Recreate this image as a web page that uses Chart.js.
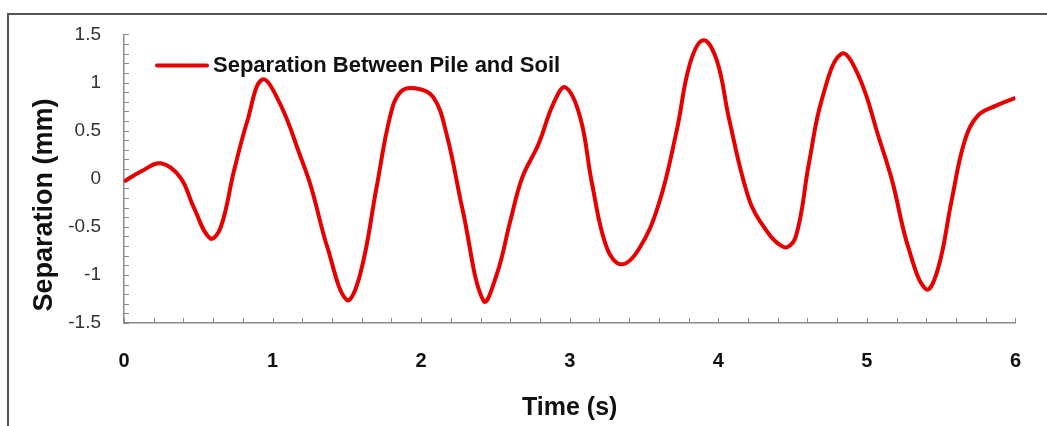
<!DOCTYPE html>
<html>
<head>
<meta charset="utf-8">
<script src="https://cdn.jsdelivr.net/npm/chart.js@4/dist/chart.umd.min.js"></script>
<style>
  html, body { margin: 0; padding: 0; background: #ffffff; }
  #wrap { position: relative; width: 1047px; height: 426px; }
</style>
</head>
<body>
<div id="wrap"><canvas id="chart" width="1047" height="426"></canvas></div>
<script>
// Pile-soil separation time history
const timeS = [0, 0.12, 0.25, 0.38, 0.47, 0.58, 0.65, 0.74, 0.83, 0.93, 1.05, 1.19, 1.26, 1.37, 1.50,
  1.59, 1.70, 1.79, 1.86, 1.96, 2.08, 2.17, 2.28, 2.42, 2.51, 2.60, 2.68, 2.79, 2.89, 2.97, 3.07, 3.15,
  3.25, 3.35, 3.47, 3.60, 3.72, 3.81, 3.90, 3.99, 4.07, 4.19, 4.28, 4.44, 4.52, 4.61, 4.70, 4.83, 4.95,
  5.08, 5.17, 5.28, 5.40, 5.48, 5.57, 5.66, 5.75, 5.87, 6.00];
const separationMm = [-0.03, 0.08, 0.16, 0.01, -0.30, -0.62, -0.51, 0.08, 0.60, 1.03, 0.78, 0.22, -0.09, -0.72, -1.26,
  -0.99, -0.09, 0.64, 0.90, 0.94, 0.85, 0.47, -0.33, -1.27, -0.99, -0.44, 0.01, 0.36, 0.78, 0.95, 0.64, -0.05,
  -0.72, -0.89, -0.72, -0.26, 0.50, 1.20, 1.44, 1.23, 0.64, -0.13, -0.44, -0.71, -0.61, 0.16, 0.84, 1.30, 1.05,
  0.43, -0.02, -0.72, -1.15, -0.93, -0.23, 0.40, 0.66, 0.76, 0.84];

const xTickLabels = ['0', '1', '2', '3', '4', '5', '6'];
const yTickLabels = ['-1.5', '-1', '-0.5', '0', '0.5', '1', '1.5'];
const seriesLabel = 'Separation Between Pile and Soil';
const xTitle = 'Time (s)';
const yTitle = 'Separation (mm)';

const LINE_RED = '#e60000';
const BOLD = '"Liberation Sans", Arial, sans-serif';

// Frame, inward minor ticks, in-plot legend and axis titles
const decor = {
  id: 'decor',
  beforeDatasetsDraw(chart) {
    const { ctx, chartArea: a, scales: { x, y } } = chart;
    ctx.save();
    ctx.strokeStyle = '#8a8a8a';
    ctx.lineWidth = 1;
    ctx.beginPath();
    for (let i = 0; i <= 30; i++) {
      const py = Math.round(y.getPixelForValue(-1.5 + i * 0.1)) + 0.5;
      ctx.moveTo(a.left, py);
      ctx.lineTo(a.left + 5, py);
    }
    for (let i = 0; i <= 30; i++) {
      const px = Math.round(x.getPixelForValue(i * 0.2)) + 0.5;
      ctx.moveTo(px, a.bottom);
      ctx.lineTo(px, a.bottom - 5);
    }
    ctx.stroke();
    ctx.restore();
  },
  afterDraw(chart) {
    const { ctx, chartArea: a } = chart;
    ctx.save();
    // outer frame (left and top edges)
    ctx.strokeStyle = '#555555';
    ctx.lineWidth = 2;
    ctx.beginPath();
    ctx.moveTo(8, 426);
    ctx.lineTo(8, 14);
    ctx.lineTo(1047, 14);
    ctx.stroke();

    // legend
    const lx = a.left + 33, ly = a.top + 31;
    ctx.strokeStyle = LINE_RED;
    ctx.lineWidth = 4;
    ctx.lineCap = 'round';
    ctx.beginPath();
    ctx.moveTo(lx, ly);
    ctx.lineTo(lx + 50, ly);
    ctx.stroke();
    ctx.fillStyle = '#111111';
    ctx.font = 'bold 22px ' + BOLD;
    ctx.textAlign = 'left';
    ctx.textBaseline = 'middle';
    ctx.fillText(chart.data.datasets[0].label, lx + 56, ly + 1);

    // axis titles
    ctx.font = 'bold 25px ' + BOLD;
    ctx.textAlign = 'center';
    ctx.fillText(xTitle, (a.left + a.right) / 2, 408);
    ctx.save();
    ctx.translate(45, 205);
    ctx.rotate(-Math.PI / 2);
    ctx.font = 'bold 27px ' + BOLD;
    ctx.fillText(yTitle, 0, 0);
    ctx.restore();
    ctx.restore();
  }
};

new Chart(document.getElementById('chart'), {
  type: 'line',
  data: {
    datasets: [{
      label: seriesLabel,
      data: timeS.map((t, i) => ({ x: t, y: separationMm[i] })),
      borderColor: LINE_RED,
      borderWidth: 4,
      borderJoinStyle: 'round',
      pointRadius: 0,
      fill: false,
      tension: 0.4
    }]
  },
  options: {
    responsive: false,
    animation: false,
    devicePixelRatio: 1,
    layout: { padding: { top: 34, right: 31, left: 0, bottom: 0 } },
    plugins: { legend: { display: false }, tooltip: { enabled: false } },
    scales: {
      x: {
        type: 'linear',
        min: 0, max: 6,
        grid: { display: false, drawTicks: false },
        border: { display: true, color: '#8a8a8a', width: 1.5 },
        ticks: {
          stepSize: 1,
          padding: 26,
          color: '#111111',
          font: { family: BOLD, size: 20, weight: 'bold' },
          callback: v => xTickLabels[Math.round(v)]
        },
        afterFit: s => { s.height = 103; }
      },
      y: {
        min: -1.5, max: 1.5,
        grid: { display: false, drawTicks: false },
        border: { display: true, color: '#8a8a8a', width: 1.5 },
        ticks: {
          stepSize: 0.5,
          padding: 23,
          color: '#333333',
          font: { family: '"Liberation Sans", Arial, sans-serif', size: 19 },
          callback: v => yTickLabels[Math.round((v + 1.5) / 0.5)]
        },
        afterFit: s => { s.width = 124; }
      }
    }
  },
  plugins: [decor]
});
</script>
</body>
</html>
